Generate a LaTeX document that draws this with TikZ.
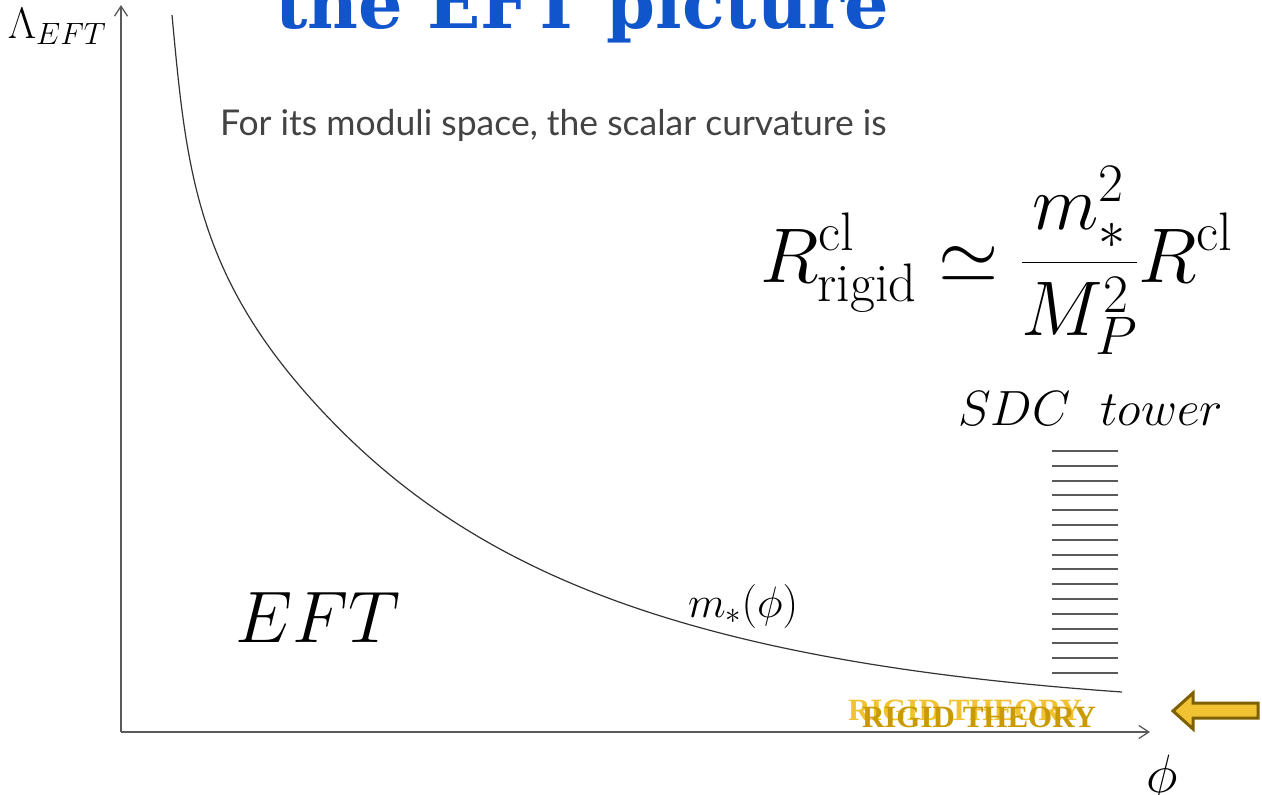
\RequirePackage{fix-cm}
\documentclass[tikz,border=0pt]{standalone}
\usepackage{amsmath}
\usepackage{fontspec}
\newfontfamily\slidefont{Lato}
\newfontfamily\titlefont{DejaVu Serif}
\newfontfamily\rigidfont{Liberation Serif}
\usetikzlibrary{arrows.meta,positioning}
\definecolor{TitleBlue}{HTML}{1155CC}
\definecolor{TextGray}{HTML}{434343}
\definecolor{AxisGray}{HTML}{5A5A5A}
\definecolor{CurveGray}{HTML}{333333}
\definecolor{GoldLight}{HTML}{F1C232}
\definecolor{GoldDark}{HTML}{C99B00}
\definecolor{GoldEdge}{HTML}{7F6000}

\begin{document}
\begin{tikzpicture}[x=1pt,y=-1pt,
  every node/.style={anchor=base west,inner sep=0pt,outer sep=0pt},
  axisline/.style={AxisGray,line width=1.3pt,-{Straight Barb[length=10pt,width=13pt]}},
  towerline/.style={AxisGray,line width=2pt},
  rigidlabel/.style={font=\rigidfont\bfseries\fontsize{31}{36}\selectfont}]
  \useasboundingbox (0,0) rectangle (1262,795);
  \clip (0,0) rectangle (1262,795);
  % axes
  \coordinate (origin) at (121,732);
  \coordinate (ytip) at (121,5);
  \coordinate (xtip) at (1150,732);
  \draw[axisline] (origin) -- (ytip);
  \draw[axisline] (origin) -- (xtip);
  % title and text
  \node[text=TitleBlue,font=\titlefont\bfseries\fontsize{70}{80}\selectfont] (title) at (275,28) {the EFT picture};
  \node[text=TextGray,font=\slidefont\fontsize{35.5}{42}\selectfont] (intro) at (220,135) {For its moduli space, the scalar curvature is};
  \node[font=\fontsize{77.5}{90}\selectfont] (formula) at (760,282)
    {$\displaystyle R^{\mathrm{cl}}_{\mathrm{rigid}}\simeq\frac{m_*^2}{M_P^2}R^{\mathrm{cl}}$};
  % labels
  \node[font=\fontsize{44}{50}\selectfont] (lambda) at (8,38) {$\Lambda_{EFT}$};
  \node[font=\fontsize{73}{84}\selectfont] (eft) at (235,642) {$EFT$};
  \node[font=\fontsize{44}{50}\selectfont] (mstar) at (688,617) {$m_*(\phi)$};
  \node[font=\fontsize{54}{60}\selectfont] (phi) at (1146,792) {$\phi$};
  \node[font=\fontsize{49.5}{56}\selectfont] (sdc) at (958,425) {$SDC\ \ tower$};
  % m_* curve
  \coordinate (ctop) at (172,15);
  \coordinate (cmid) at (312,400);
  \coordinate (cend) at (1122,692);
  \draw[CurveGray,line width=1.2pt] (ctop) .. controls (186,165) and (195,270) .. (cmid)
    .. controls (462,566.5) and (672,660.5) .. (cend);
  % tower of states
  \foreach \k in {0,...,15}
    \draw[towerline] (1052,451+14.8*\k) -- ++(66,0);
  % rigid theory
  \node[rigidlabel,text=GoldLight] (rigidback) at (848,720) {RIGID THEORY};
  \node[rigidlabel,text=GoldDark] (rigidfront) at (862,727) {RIGID THEORY};
  \draw[GoldEdge,fill=GoldLight,line width=3pt,line join=miter]
    (1173,711) -- (1193,693) -- (1193,703) -- (1258,703) -- (1258,718)
    -- (1193,718) -- (1193,729) -- cycle;
\end{tikzpicture}
\end{document}
